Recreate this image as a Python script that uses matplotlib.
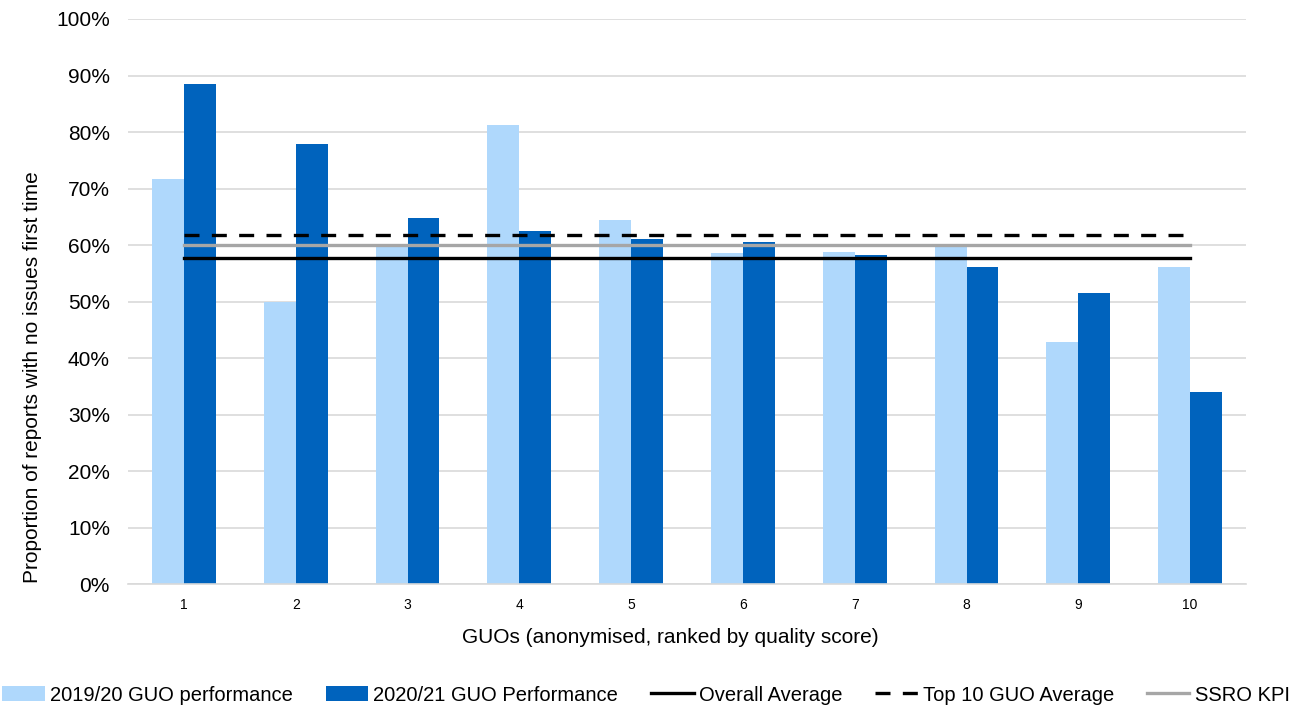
import numpy as np
import matplotlib
matplotlib.use("Agg")
import matplotlib.pyplot as plt
from matplotlib.ticker import PercentFormatter

plt.rcParams["font.family"] = ["Liberation Sans", "DejaVu Sans"]

# GUO ranks and first-time quality proportions (%)
guos = ["1", "2", "3", "4", "5", "6", "7", "8", "9", "10"]
perf_1920 = [71.7, 50.0, 60.0, 81.3, 64.5, 58.6, 58.8, 60.1, 42.8, 56.2]
perf_2021 = [88.5, 77.8, 64.8, 62.5, 61.0, 60.5, 58.3, 56.2, 51.5, 34.0]
overall_avg = 57.7
top10_avg = 61.8
ssro_kpi = 60.0

LIGHT = "#afd8fc"
DARK = "#0063bd"
GREY = "#a6a6a6"

fig = plt.figure(figsize=(12.92, 7.08), dpi=100)
ax = fig.add_axes([0.0991, 0.1747, 0.8653, 0.7985])

x = np.arange(len(guos))
w = 1 / 3.5  # gap width 150%
b1 = ax.bar(x - w / 2, perf_1920, w, color=LIGHT, label="2019/20 GUO performance", zorder=2)
b2 = ax.bar(x + w / 2, perf_2021, w, color=DARK, label="2020/21 GUO Performance", zorder=2)

lw = 2.4
l1, = ax.plot(x, [overall_avg] * len(x), color="black", lw=lw, label="Overall Average", zorder=3)
l2, = ax.plot(x, [top10_avg] * len(x), color="black", lw=lw, ls=(0, (4.5, 3.7)),
              label="Top 10 GUO Average", zorder=3)
l3, = ax.plot(x, [ssro_kpi] * len(x), color=GREY, lw=lw, label="SSRO KPI", zorder=3)

ax.set_xlim(-0.5, len(guos) - 0.5)
ax.set_ylim(0, 100)
ax.set_yticks(np.arange(0, 101, 10))
ax.yaxis.set_major_formatter(PercentFormatter(decimals=0))
ax.set_xticks(x)
ax.set_xticklabels(guos)
ax.tick_params(axis="y", labelsize=15, length=0, pad=13)
ax.tick_params(axis="x", labelsize=10, length=0, pad=10)
ax.grid(axis="y", color="#d9d9d9", lw=1.2, zorder=0)
for side in ("top", "right", "left"):
    ax.spines[side].set_visible(False)
ax.spines["bottom"].set_color("#d9d9d9")
ax.spines["bottom"].set_linewidth(1.2)

fig.text(0.5186, 0.099, "GUOs (anonymised, ranked by quality score)",
         ha="center", va="center", fontsize=15)
fig.text(0.025, 0.468, "Proportion of reports with no issues first time",
         ha="center", va="center", rotation=90, fontsize=15)

fig.legend(handles=[b1, b2, l1, l2, l3], loc="center", bbox_to_anchor=(0.5, 0.018),
           ncol=5, frameon=False, fontsize=14.5, handlelength=2.1, handleheight=0.8,
           handletextpad=0.25, columnspacing=1.65, borderpad=0, borderaxespad=0)

fig.savefig("out.png", dpi=100)
